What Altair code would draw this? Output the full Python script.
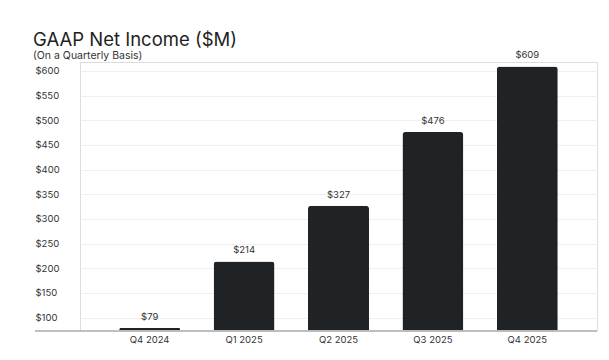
import altair as alt
import pandas as pd

quarters = ["Q4 2024", "Q1 2025", "Q2 2025", "Q3 2025", "Q4 2025"]
net_income = [79, 214, 327, 476, 609]
y_ticks = [100, 150, 200, 250, 300, 350, 400, 450, 500, 550, 600]

df = pd.DataFrame({"quarter": quarters, "value": net_income})
df["label"] = ["$" + str(v) for v in net_income]

W, H = 517, 269
FONT = "Inter"
DARK = "#202326"

x_enc = alt.X("quarter:N", sort=quarters, title=None,
              scale=alt.Scale(paddingInner=0.354, paddingOuter=0.415),
              axis=alt.Axis(labelAngle=0, ticks=False, domain=False, labelPadding=3,
                            labelFontSize=9.5, labelColor="#333", labelFont=FONT))
y_enc = alt.Y("value:Q", title=None,
              scale=alt.Scale(domain=[73, 618], nice=False, zero=False, clamp=True),
              axis=alt.Axis(values=y_ticks, labelExpr="'$' + datum.value", ticks=False, tickSize=0,
                            domain=False, labelAlign="left", labelPadding=45, labelOverlap=False,
                            labelFontSize=9.5, labelColor="#333", labelFont=FONT,
                            gridColor="#efefef", gridWidth=1))

base = alt.Chart(df).encode(x=x_enc, y=y_enc)
bars = base.mark_bar(color=DARK, cornerRadiusTopLeft=3, cornerRadiusTopRight=3)
labels = base.mark_text(baseline="bottom", dy=-6, fontSize=9.5, color="#333", font=FONT).encode(
    text="label:N")
baseline = alt.Chart(df).mark_rule(color="#bdbdbd", strokeWidth=1).encode(
    x=alt.value(-45), x2=alt.value(W), y=alt.value(H))

chart = alt.layer(bars, labels, baseline).properties(
    width=W, height=H,
    autosize=alt.AutoSizeParams(type="none"),
    padding={"left": 72, "top": 54, "right": 4, "bottom": 20},
    title=alt.TitleParams(text="GAAP Net Income ($M)", subtitle="(On a Quarterly Basis)",
                          anchor="start", frame="group", dx=-47, offset=-11, fontSize=18.5,
                          fontWeight="normal",
                          font=FONT, color="#1e1e1e", subtitleFont=FONT, subtitleFontSize=10.5,
                          subtitleColor="#333", subtitlePadding=1),
).configure_view(stroke=None).configure(background="white")

chart.save("out.html", embed_options={"renderer": "svg", "actions": False})
